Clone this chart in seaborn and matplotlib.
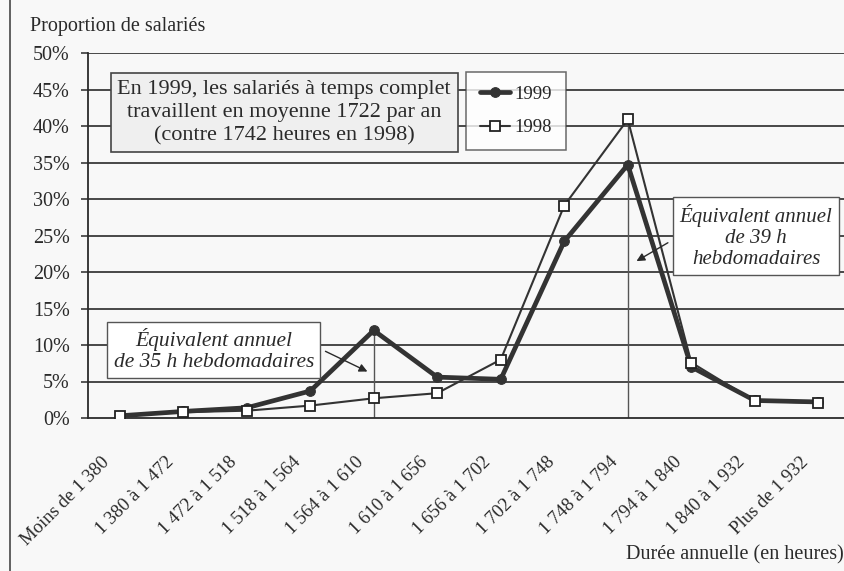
import numpy as np
import pandas as pd
import matplotlib
matplotlib.use("Agg")
import matplotlib.pyplot as plt
from matplotlib.lines import Line2D
from matplotlib.transforms import ScaledTranslation
import seaborn as sns

# ---------------- data ----------------
categories = ['Moins de 1 380', '1 380 à 1 472', '1 472 à 1 518', '1 518 à 1 564',
              '1 564 à 1 610', '1 610 à 1 656', '1 656 à 1 702', '1 702 à 1 748',
              '1 748 à 1 794', '1 794 à 1 840', '1 840 à 1 932', 'Plus de 1 932']
values_1999 = [0.3, 0.9, 1.4, 3.7, 12.0, 5.6, 5.3, 24.2, 34.7, 7.0, 2.4, 2.2]
values_1998 = [0.3, 0.8, 1.0, 1.7, 2.7, 3.4, 8.0, 29.1, 40.9, 7.6, 2.3, 2.1]
y_ticks = [0, 5, 10, 15, 20, 25, 30, 35, 40, 45, 50]
y_ticklabels = [f"{t}%" for t in y_ticks]
marked_idx = [4, 8]  # 35 h and 39 h equivalents

df = pd.DataFrame({'pos': np.arange(len(categories)),
                   '1999': values_1999, '1998': values_1998})

# ---------------- style ----------------
sns.set_theme(style="white")
plt.rcParams['font.family'] = ['Liberation Serif', 'DejaVu Serif']
ink = '#2a2a2a'
bg = '#f8f8f8'

fig = plt.figure(figsize=(8.45, 5.71), dpi=100, facecolor=bg)
ax = fig.add_axes([88 / 845, 153 / 571, 762 / 845, 365 / 571], facecolor=bg)

# grid + vertical markers
for t in y_ticks[1:]:
    ax.axhline(t, color=ink, lw=1.2, zorder=1)
vtops = [max(values_1999[i], values_1998[i]) for i in marked_idx]
ax.vlines(marked_idx, 0, vtops, color='#555555', lw=1.0, zorder=1)

sns.lineplot(data=df, x='pos', y='1999', ax=ax, color='#333333', lw=3.4,
             marker='o', markersize=7, markerfacecolor='#333333',
             markeredgecolor='#333333', label='1999', zorder=3)
sns.lineplot(data=df, x='pos', y='1998', ax=ax, color='#333333', lw=1.5,
             marker='s', markersize=7.5, markerfacecolor='white',
             markeredgecolor='#222222', markeredgewidth=1.3, label='1998', zorder=4)

ax.set_xlim(-0.5, len(categories) - 0.5)
ax.set_ylim(0, 50)
ax.set_xlabel('')
ax.set_ylabel('')

ax.set_yticks(y_ticks)
ax.set_yticklabels(y_ticklabels, fontsize=14.5, color=ink)
ax.set_xticks(np.arange(len(categories)))
ax.set_xticklabels(categories, rotation=45, ha='right', va='center',
                   rotation_mode='anchor', fontsize=13.5, color=ink)
ax.set_xticks(np.arange(len(categories) + 1) - 0.5, minor=True)
ax.tick_params(axis='x', which='major', length=0, pad=30)
ax.tick_params(axis='x', which='minor', length=6, width=1.1, color=ink, direction='out')
ax.tick_params(axis='y', length=5, width=1.1, color=ink, direction='out', pad=8, left=True)
for lab in ax.get_xticklabels():
    lab.set_transform(lab.get_transform() + ScaledTranslation(-9 / 72, 0, fig.dpi_scale_trans))

for s in ['top', 'right']:
    ax.spines[s].set_visible(False)
for s in ['left', 'bottom']:
    ax.spines[s].set_color(ink)
    ax.spines[s].set_linewidth(1.3)

# legend
handles, labels = ax.get_legend_handles_labels()
ax.get_legend().remove()
leg = fig.legend(handles, labels, loc='center', bbox_to_anchor=(516 / 845, 1 - 111 / 571),
                 fontsize=13.5, frameon=True, fancybox=False, handlelength=1.6,
                 handletextpad=0.2, borderpad=0.75, labelspacing=0.85, borderaxespad=0)
leg.get_frame().set_edgecolor('#444444')
leg.get_frame().set_facecolor('white')
leg.get_frame().set_linewidth(1.1)

# annotations
ax.text(2.59, 41.8, "En 1999, les salariés à temps complet\ntravaillent en moyenne 1722 par an\n(contre 1742 heures en 1998)",
        ha='center', va='center', fontsize=16, color=ink, linespacing=1.3, zorder=6,
        bbox=dict(boxstyle='square,pad=0.3', facecolor='#efefef', edgecolor='#444444', lw=1.2))

ax.text(1.48, 9.3, "Équivalent annuel\nde 35 h hebdomadaires", style='italic',
        ha='center', va='center', fontsize=15.5, color=ink, linespacing=1.1, zorder=6,
        bbox=dict(boxstyle='square,pad=0.3', facecolor='white', edgecolor='#555555', lw=1.0))
ax.annotate('', xy=(3.94, 6.2), xytext=(3.2, 9.3), zorder=6,
            arrowprops=dict(arrowstyle='-|>', color=ink, lw=1.0, mutation_scale=12))

ax.text(10.02, 24.9, "Équivalent annuel\nde 39 h\nhebdomadaires", style='italic',
        ha='center', va='center', fontsize=15, color=ink, linespacing=1.15, zorder=6,
        bbox=dict(boxstyle='square,pad=0.3', facecolor='white', edgecolor='#555555', lw=1.0))
ax.annotate('', xy=(8.1, 21.3), xytext=(8.67, 24.2), zorder=6,
            arrowprops=dict(arrowstyle='-|>', color=ink, lw=1.0, mutation_scale=12))

fig.text(30 / 845, 1 - 27 / 571, "Proportion de salariés", ha='left', va='center',
         fontsize=14.5, color=ink)
fig.text(844 / 845, 1 - 555 / 571, "Durée annuelle (en heures)", ha='right', va='center',
         fontsize=14.5, color=ink)

# page edge line on the left of the scan
fig.add_artist(Line2D([10 / 845, 10 / 845], [0, 1], transform=fig.transFigure,
                      color='#555555', lw=1.3))

fig.savefig('out.png', dpi=100, facecolor=bg)
